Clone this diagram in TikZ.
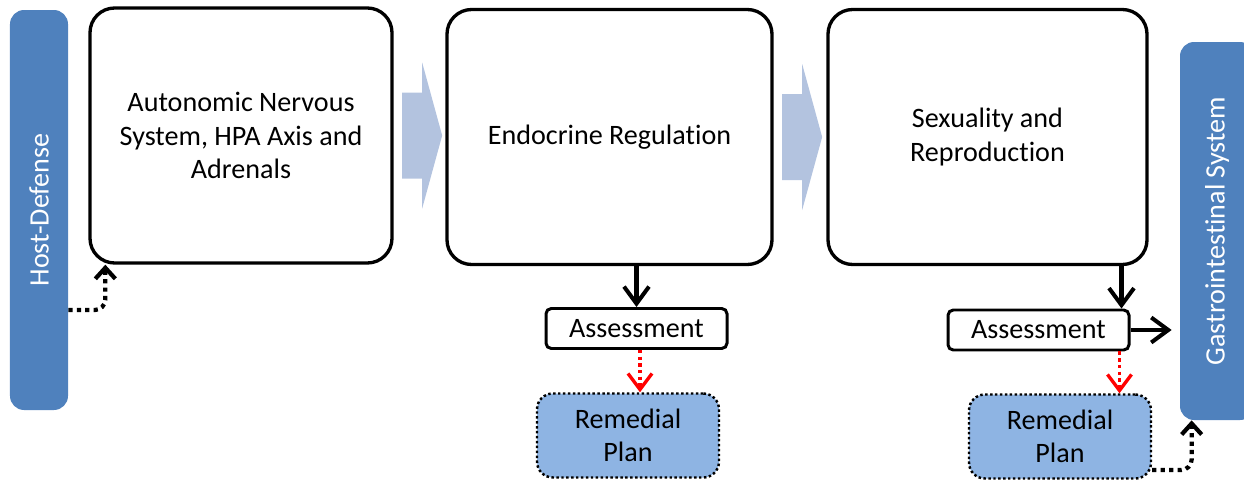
\documentclass[tikz,border=0pt]{standalone}
\usepackage{fontspec}
\setmainfont{Carlito}[Ligatures={NoCommon,NoContextual}]
\usepackage{tikz}
\usetikzlibrary{positioning,arrows.meta}
\definecolor{barblue}{HTML}{4F81BD}
\definecolor{planblue}{HTML}{8EB4E3}
\definecolor{chevblue}{HTML}{B3C3DF}

\begin{document}
\begin{tikzpicture}[
  font=\fontsize{16}{19}\selectfont,
  bar/.style={fill=barblue, rounded corners=8pt, inner sep=0pt},
  stage/.style={draw, line width=1.9pt, rounded corners=14pt, minimum height=5.1cm, align=center},
  assess/.style={draw, line width=1.7pt, rounded corners=3pt, minimum width=3.62cm, minimum height=0.8cm, inner sep=0pt},
  plan/.style={draw, fill=planblue, line width=1.4pt, dash pattern=on 1.4pt off 1.4pt, rounded corners=9pt, minimum width=3.64cm, minimum height=1.68cm, align=center},
  flow/.style={line width=2.3pt, -{Straight Barb[length=3.4mm,width=5mm]}},
  alert/.style={red, line width=1.9pt, dash pattern=on 1.9pt off 1.9pt, -{Straight Barb[length=3.2mm,width=4.8mm]}},
  link/.style={line width=2.4pt, dash pattern=on 2.4pt off 2.4pt, rounded corners=6pt, -{Straight Barb[length=2.2mm,width=4mm]}},
  chev/.style={fill=chevblue}
]
  \useasboundingbox (0,0) rectangle (24.88,9.6);

  % side bars
  \node[bar, minimum width=1.16cm, minimum height=8cm] (host) at (0.78,5.4) {};
  \node[text=white, rotate=90] (hostlbl) at (host.center) {Host-Defense};
  \node[bar, minimum width=1.48cm, minimum height=7.56cm] (gi) at (24.34,4.98) {};
  \node[text=white, rotate=90] (gilbl) at (gi.center) {Gastrointestinal System};

  % stages
  \node[stage, minimum width=6.04cm] (box1) at (4.82,6.89) {Autonomic Nervous\\System, HPA Axis and\\Adrenals};
  \node[stage, minimum width=6.5cm] (box2) at (12.19,6.86) {Endocrine Regulation};
  \node[stage, minimum width=6.38cm] (box3) at (19.75,6.86) {Sexuality and\\Reproduction};

  \foreach \a in {box1,box2}
    \fill[chev] ([xshift=1.7mm]\a.east) ++(0,0.86) -- ++(0.4,0) -- ++(0,0.6) -- ++(0.4,-1.46)
      -- ++(-0.4,-1.46) -- ++(0,0.6) -- ++(-0.4,0) -- cycle;

  % assessment and plans
  \node[assess] (ass1) at (12.73,3.03) {Assessment};
  \node[plan] (plan1) at (12.56,0.89) {Remedial\\Plan};
  \node[assess] (ass2) at (20.77,3.0) {Assessment};
  \node[plan] (plan2) at (21.2,0.87) {Remedial\\Plan};

  \coordinate (in3) at ([xshift=-1.8mm]ass2.north east);
  \coordinate (out3) at ([xshift=-2.2mm]ass2.south east);

  \draw[flow] (box2.south -| ass1.north) -- (ass1.north);
  \draw[alert] ([xshift=0.7mm]ass1.south) -- ([xshift=0.7mm]ass1.south |- plan1.north);
  \draw[flow] (in3 |- box3.south) -- (in3);
  \draw[alert] (out3) -- (out3 |- plan2.north);
  \draw[flow, shorten >=1.6mm] (ass2.east) -- (ass2.east -| gi.west);
  \draw[link] ([yshift=-2cm]host.east) -| ([xshift=3.4mm]box1.south west);
  \draw[link] ([yshift=-6.7mm]plan2.east) -| ([xshift=2.4mm]gi.south west);
\end{tikzpicture}
\end{document}
